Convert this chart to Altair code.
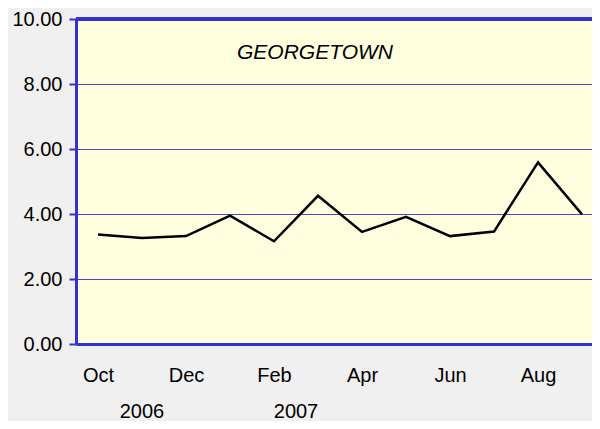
import altair as alt
import pandas as pd

months = ["Oct", "Nov", "Dec", "Jan", "Feb", "Mar", "Apr", "May", "Jun", "Jul", "Aug", "Sep"]
values = [3.37, 3.26, 3.32, 3.95, 3.16, 4.56, 3.45, 3.91, 3.32, 3.46, 5.59, 3.99]
years = ["2006", "2007"]
year_pos = [1, 4.5]
station = "GEORGETOWN"

BLUE = "#3333cc"
FONT = "Liberation Sans"

df = pd.DataFrame({"idx": list(range(len(months))), "month": months, "value": values})
ydf = pd.DataFrame({"pos": year_pos, "year": years})

label_arr = "[" + ",".join("'%s'" % m for m in months) + "]"

xscale = alt.Scale(domain=[-0.5, 11.227], nice=False, zero=False)
yscale = alt.Scale(domain=[0, 10], nice=False)

line = alt.Chart(df).mark_line(color="black", strokeWidth=2.5).encode(
    x=alt.X("idx:Q", scale=xscale,
            axis=alt.Axis(title=None, values=[0, 2, 4, 6, 8, 10], grid=False, ticks=False,
                          tickSize=0, domainColor=BLUE, domainWidth=3,
                          labelExpr=label_arr + "[datum.value]", labelFontSize=20,
                          labelFont=FONT, labelColor="black", labelPadding=21)),
    y=alt.Y("value:Q", scale=yscale,
            axis=alt.Axis(title=None, values=[0, 2, 4, 6, 8, 10], format=".2f",
                          grid=True, gridColor=BLUE, gridWidth=1, gridOpacity=0.9,
                          domainColor=BLUE, domainWidth=3, tickColor=BLUE, tickWidth=2,
                          tickSize=7, labelFontSize=20, labelFont=FONT, labelColor="black",
                          labelPadding=7)),
)

top_rule = alt.Chart(df).mark_rule(color=BLUE, strokeWidth=3).encode(
    y=alt.datum(10, scale=yscale)
)

year_text = alt.Chart(ydf).mark_text(fontSize=20, font=FONT, color="black", baseline="alphabetic").encode(
    x=alt.X("pos:Q", scale=xscale),
    y=alt.value(399),
    text="year:N",
)

title_text = alt.Chart(pd.DataFrame({"t": [station]})).mark_text(
    fontSize=21, font=FONT, fontStyle="italic", color="black", baseline="middle"
).encode(x=alt.value(239), y=alt.value(33.5), text="t:N")

chart = alt.layer(line, top_rule, year_text, title_text).properties(
    width=516, height=325,
    autosize=alt.AutoSizeParams(type="none"),
    padding={"left": 68, "top": 11, "right": 0, "bottom": 77},
    background="#f0f0f0",
).configure_view(fill="#ffffe0", stroke=None)

chart.save("out.html", embed_options={"renderer": "svg", "actions": False})
